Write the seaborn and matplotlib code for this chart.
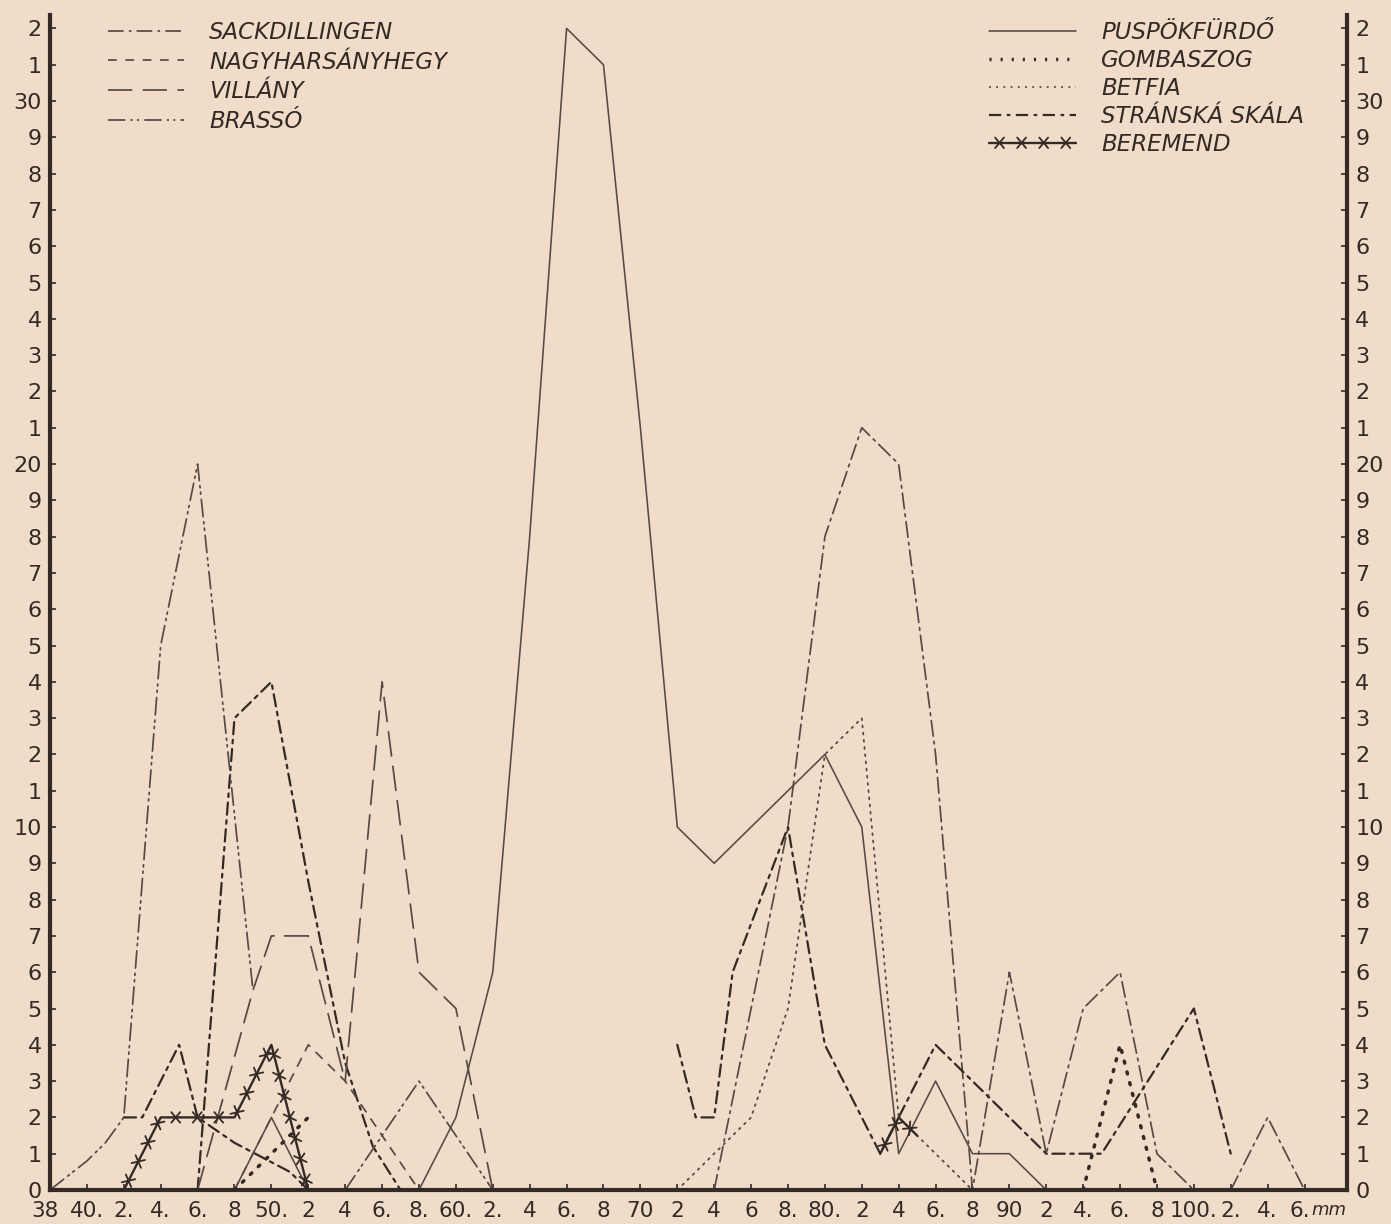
import numpy as np
import pandas as pd
import matplotlib
matplotlib.use("Agg")
import matplotlib.pyplot as plt
from matplotlib.lines import Line2D
from matplotlib import patheffects as pe
from matplotlib.transforms import ScaledTranslation
import seaborn as sns

# ---------------- data (mm class, count) ----------------
x_ticks = list(range(38, 107, 2))
x_labels = ['38', '40.', '2.', '4.', '6.', '8', '50.', '2', '4', '6.', '8.', '60.', '2.', '4',
            '6.', '8', '70', '2', '4', '6', '8.', '80.', '2', '4', '6.', '8', '90', '2', '4.',
            '6.', '8', '100.', '2.', '4.', '6.']
unit_label = 'mm'
y_ticks = list(range(0, 33))
y_labels = ['0', '1', '2', '3', '4', '5', '6', '7', '8', '9', '10', '1', '2', '3', '4', '5', '6',
            '7', '8', '9', '20', '1', '2', '3', '4', '5', '6', '7', '8', '9', '30', '1', '2']

# PUSPOKFURDO (solid)
puspok_mm = [58, 60, 62, 64, 66, 68, 70, 72, 74, 80, 82, 84, 86, 88, 90, 92]
puspok_n = [0, 2, 6, 18, 32, 31, 21, 10, 9, 12, 10, 1, 3, 1, 1, 0]
puspok2_mm = [48, 50, 52]
puspok2_n = [0, 2, 0]

# SACKDILLINGEN
sack_mm = [74, 76, 78, 80, 82, 84, 86, 88, 90, 92, 94, 96, 98, 100]
sack_n = [0, 5, 10, 18, 21, 20, 12, 0, 6, 1, 5, 6, 1, 0]
sack2_mm = [102, 104, 106]
sack2_n = [0, 2, 0]

# STRANSKA SKALA
stran1_mm = [42, 43, 45, 46, 48, 51, 52]
stran1_n = [2, 2, 4, 2, 1.3, 0.5, 0]
stran2_mm = [46, 48, 50, 52, 54, 55.5, 57]
stran2_n = [0, 13, 14, 8.5, 3.5, 1.2, 0]
stran3_mm = [72, 73, 74, 75, 78, 80, 82, 83, 86, 88, 90, 92, 95, 100, 102]
stran3_n = [4, 2, 2, 6, 10, 4, 2, 1, 4, 3, 2, 1, 1, 5, 1]

# BRASSO
brasso_mm = [38, 40, 41, 42, 44, 46, 49]
brasso_n = [0, 0.8, 1.3, 2, 15, 20, 5.5]
brasso2_mm = [54, 58, 62]
brasso2_n = [0, 3, 0]

# VILLANY
villany_mm = [46, 49, 50, 52, 54, 56, 58, 60, 62]
villany_n = [0, 5.5, 7, 7, 3, 14, 6, 5, 0]

# NAGYHARSANYHEGY
nagy_mm = [48, 50, 52, 54, 56, 58]
nagy_n = [0, 2, 4, 3, 1.5, 0]

# GOMBASZOG
gomba1_mm = [48, 50, 52]
gomba1_n = [0, 1, 2]
gomba2_mm = [94, 96, 98]
gomba2_n = [0, 4, 0]

# BETFIA
betfia_mm = [72, 74, 76, 78, 80, 82, 84, 86, 88]
betfia_n = [0, 1, 2, 5, 12, 13, 2, 1, 0]

# BEREMEND
berem1_mm = [42, 44, 46, 48, 50, 52]
berem1_n = [0, 2, 2, 2, 4, 0]
berem2_mm = [83, 84, 85]
berem2_n = [1, 2, 1.5]

# ---------------- styles ----------------
INK = '#332925'
LINE = '#564a46'
BG = '#f0dcc8'

styles = {
    'SACKDILLINGEN': dict(ls=(0, (9, 3, 1.5, 3)), lw=1.25, color=LINE),
    'NAGYHARSÁNYHEGY': dict(ls=(0, (5, 5)), lw=1.25, color=LINE),
    'VILLÁNY': dict(ls=(0, (14, 6)), lw=1.25, color=LINE),
    'BRASSÓ': dict(ls=(0, (10, 3, 1.2, 2.5, 1.2, 3)), lw=1.25, color=LINE),
    'PUSPÖKFÜRDŐ': dict(ls='-', lw=1.15, color=LINE),
    'GOMBASZOG': dict(ls=(0, (0.6, 2.6)), lw=2.5, color=INK),
    'BETFIA': dict(ls=(0, (1, 3)), lw=1.3, color=LINE),
    'STRÁNSKÁ SKÁLA': dict(ls=(0, (5.5, 2.5, 1.6, 2.5)), lw=1.6, color=INK),
    'BEREMEND': dict(ls='-', lw=1.7, color=INK),
}

def star_effects(spacing=15, length=0.33):
    fx = [pe.Normal()]
    for a in (50, 130, -50, -130):
        fx.append(pe.TickedStroke(spacing=spacing, angle=a, length=length,
                                  linewidth=1.3, foreground=INK))
    return fx

segments = [
    ('PUSPÖKFÜRDŐ', puspok_mm, puspok_n), ('PUSPÖKFÜRDŐ', puspok2_mm, puspok2_n),
    ('SACKDILLINGEN', sack_mm, sack_n), ('SACKDILLINGEN', sack2_mm, sack2_n),
    ('STRÁNSKÁ SKÁLA', stran1_mm, stran1_n), ('STRÁNSKÁ SKÁLA', stran2_mm, stran2_n),
    ('STRÁNSKÁ SKÁLA', stran3_mm, stran3_n),
    ('BRASSÓ', brasso_mm, brasso_n), ('BRASSÓ', brasso2_mm, brasso2_n),
    ('VILLÁNY', villany_mm, villany_n),
    ('NAGYHARSÁNYHEGY', nagy_mm, nagy_n),
    ('GOMBASZOG', gomba1_mm, gomba1_n), ('GOMBASZOG', gomba2_mm, gomba2_n),
    ('BETFIA', betfia_mm, betfia_n),
    ('BEREMEND', berem1_mm, berem1_n), ('BEREMEND', berem2_mm, berem2_n),
]

sns.set_theme(style='white')
plt.rcParams['font.family'] = ['DejaVu Sans']
plt.rcParams['axes.facecolor'] = BG
plt.rcParams['figure.facecolor'] = BG

fig = plt.figure(figsize=(13.91, 12.24), dpi=100)
ax = fig.add_axes([50 / 1391, 34 / 1224, 1297 / 1391, 1175 / 1224])
ax.set_facecolor(BG)

for name, xs, ys in segments:
    st = styles[name]
    df = pd.DataFrame({'mm': xs, 'n': ys})
    n_before = len(ax.lines)
    sns.lineplot(data=df, x='mm', y='n', sort=False, estimator=None, ax=ax,
                 color=st['color'], linestyle=st['ls'], linewidth=st['lw'],
                 dash_capstyle='round', solid_capstyle='round')
    if name == 'BEREMEND':
        for ln in ax.lines[n_before:]:
            ln.set_path_effects(star_effects())

ax.set_xlim(38, 108.3)
ax.set_ylim(0, 32.37)
ax.set_xlabel('')
ax.set_ylabel('')
ax.set_xticks(x_ticks)
ax.set_xticklabels(x_labels, fontsize=15.5, color=INK)
ax.set_yticks(y_ticks)
ax.set_yticklabels(y_labels, fontsize=16, color=INK)
ax.tick_params(axis='both', direction='in', length=4, width=1.2, color=INK)
ax.tick_params(axis='y', left=True, right=True, labelleft=True, labelright=True, pad=6)
ax.tick_params(axis='x', bottom=True, pad=8)

lbls = ax.get_xticklabels()
lbls[0].set_transform(lbls[0].get_transform() + ScaledTranslation(-5 / 100, 0, fig.dpi_scale_trans))
lbls[-1].set_transform(lbls[-1].get_transform() + ScaledTranslation(-5 / 100, 0, fig.dpi_scale_trans))
ax.annotate(unit_label, xy=(106, 0), xycoords='data', xytext=(7, -20), textcoords='offset pixels',
            fontsize=13, style='italic', color=INK, ha='left', va='center', annotation_clip=False)

for side in ['left', 'right', 'bottom']:
    ax.spines[side].set_visible(True)
    ax.spines[side].set_color(INK)
    ax.spines[side].set_linewidth(3)
ax.spines['top'].set_visible(False)
ax.grid(False)

# legends
def handle(name):
    st = styles[name]
    ln = Line2D([0, 1], [0, 1], color=st['color'], linestyle=st['ls'], linewidth=st['lw'])
    if name == 'BEREMEND':
        ln.set_path_effects(star_effects(spacing=15, length=0.33))
    return ln

left_names = ['SACKDILLINGEN', 'NAGYHARSÁNYHEGY', 'VILLÁNY', 'BRASSÓ']
right_names = ['PUSPÖKFÜRDŐ', 'GOMBASZOG', 'BETFIA', 'STRÁNSKÁ SKÁLA', 'BEREMEND']

leg_font = dict(size=16.5, style='italic')
leg1 = ax.legend([handle(n) for n in left_names], left_names, loc='upper left',
                 bbox_to_anchor=(0.038, 1.003), frameon=False, prop=leg_font,
                 handlelength=3.3, handletextpad=1.1, labelspacing=0.3, borderaxespad=0)
for t in leg1.get_texts():
    t.set_color(INK)
ax.add_artist(leg1)
leg2 = ax.legend([handle(n) for n in right_names], right_names, loc='upper left',
                 bbox_to_anchor=(0.717, 1.003), frameon=False, prop=leg_font,
                 handlelength=3.8, handletextpad=1.1, labelspacing=0.22, borderaxespad=0)
for t in leg2.get_texts():
    t.set_color(INK)

fig.savefig('out.png', dpi=100, facecolor=BG)
